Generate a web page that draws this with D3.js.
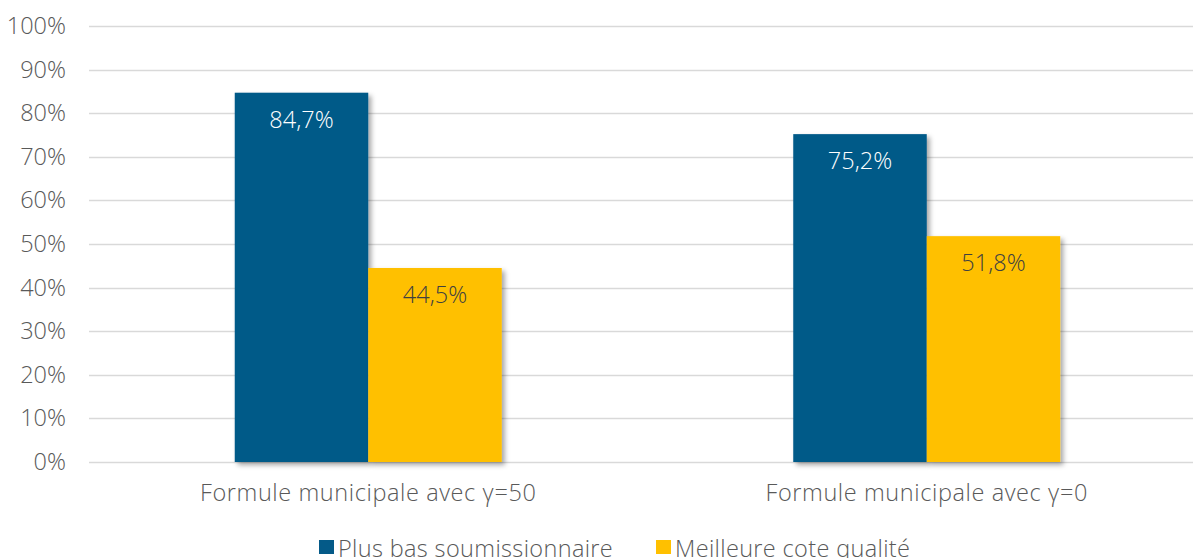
<!DOCTYPE html>
<html>
<head>
<meta charset="utf-8">
<script src="https://cdn.jsdelivr.net/npm/d3@7"></script>
<style>
  body { margin: 0; background: #fff; }
  text { font-family: "Open Sans", Lato, sans-serif; font-weight: 300; }
</style>
</head>
<body>
<svg width="1193" height="558"></svg>
<script>
// chart data
var categories = ["Formule municipale avec \u03b3=50", "Formule municipale avec \u03b3=0"];
var seriesNames = ["Plus bas soumissionnaire", "Meilleure cote qualité"];
var lowestBidder = [84.7, 75.2];
var bestQuality = [44.5, 51.8];
var yTicks = [0, 10, 20, 30, 40, 50, 60, 70, 80, 90, 100];

var colors = ["#045a88", "#ffc000"],
    labelColors = ["#ffffff", "#404040"];

var svg = d3.select("svg"),
    width = +svg.attr("width"),
    height = +svg.attr("height");

var plotLeft = 89, plotRight = 1206, plotTop = 26, plotBottom = 462;
var fontSize = 23.5;

var x = d3.scaleBand().domain(categories).range([plotLeft, plotRight]).padding(0);
var sub = d3.scaleBand().domain(seriesNames).range([-133.5, 133.5]);
var y = d3.scaleLinear().domain([0, 100]).range([plotBottom, plotTop]);

// drop shadow for the bars
var defs = svg.append("defs");
var f = defs.append("filter").attr("id", "shadow")
    .attr("x", "-10%").attr("y", "-10%").attr("width", "130%").attr("height", "130%");
f.append("feDropShadow").attr("dx", 3).attr("dy", 3).attr("stdDeviation", 2.5)
    .attr("flood-color", "#000").attr("flood-opacity", 0.35);

// gridlines
svg.append("g").selectAll("line")
    .data(yTicks)
  .enter().append("line")
    .attr("x1", plotLeft).attr("x2", width)
    .attr("y1", function(d) { return Math.round(y(d)) + 0.5; })
    .attr("y2", function(d) { return Math.round(y(d)) + 0.5; })
    .attr("stroke", "#d9d9d9").attr("stroke-width", 1.5);

// y axis labels
var yAxis = svg.append("g")
    .attr("transform", "translate(" + (plotLeft - 23) + ",0)")
    .call(d3.axisLeft(y).tickValues(yTicks).tickSize(0).tickPadding(0)
      .tickFormat(function(d) { return d + "%"; }));
yAxis.select(".domain").remove();
yAxis.selectAll("text")
    .attr("font-size", fontSize).attr("fill", "#595959")
    .attr("font-family", "'Open Sans', Lato, sans-serif");

var series = [lowestBidder, bestQuality];

var groups = svg.append("g").selectAll("g")
    .data(series)
  .enter().append("g");

groups.selectAll("rect")
    .data(function(vals, si) {
      return vals.map(function(v, ci) { return {v: v, si: si, ci: ci}; });
    })
  .enter().append("rect")
    .attr("x", function(d) { return x(categories[d.ci]) + x.bandwidth() / 2 + sub(seriesNames[d.si]); })
    .attr("width", sub.bandwidth())
    .attr("y", function(d) { return y(d.v); })
    .attr("height", function(d) { return y(0) - y(d.v); })
    .attr("fill", function(d) { return colors[d.si]; })
    .attr("filter", "url(#shadow)");

// value labels inside the bars
groups.selectAll("text")
    .data(function(vals, si) {
      return vals.map(function(v, ci) { return {v: v, si: si, ci: ci}; });
    })
  .enter().append("text")
    .attr("x", function(d) { return x(categories[d.ci]) + x.bandwidth() / 2 + sub(seriesNames[d.si]) + sub.bandwidth() / 2; })
    .attr("y", function(d) { return y(d.v) + 35; })
    .attr("text-anchor", "middle")
    .attr("font-size", fontSize)
    .attr("fill", function(d) { return labelColors[d.si]; })
    .text(function(d) { return d.v.toFixed(1).replace(".", ",") + "%"; });

// category labels
svg.append("g").selectAll("text")
    .data(categories)
  .enter().append("text")
    .attr("x", function(d) { return x(d) + x.bandwidth() / 2; })
    .attr("y", 501)
    .attr("text-anchor", "middle")
    .attr("font-size", fontSize)
    .attr("letter-spacing", 0.6)
    .attr("fill", "#595959")
    .text(function(d) { return d; });

// legend
var legendX = [319, 656];
var legend = svg.append("g").selectAll("g")
    .data(seriesNames)
  .enter().append("g")
    .attr("transform", function(d, i) { return "translate(" + legendX[i] + ",540)"; });
legend.append("rect")
    .attr("width", 15).attr("height", 14)
    .attr("fill", function(d, i) { return colors[i]; });
legend.append("text")
    .attr("x", 19).attr("y", 17)
    .attr("font-size", fontSize)
    .attr("letter-spacing", 0.35)
    .attr("fill", "#595959")
    .text(function(d) { return d; });
</script>
</body>
</html>
